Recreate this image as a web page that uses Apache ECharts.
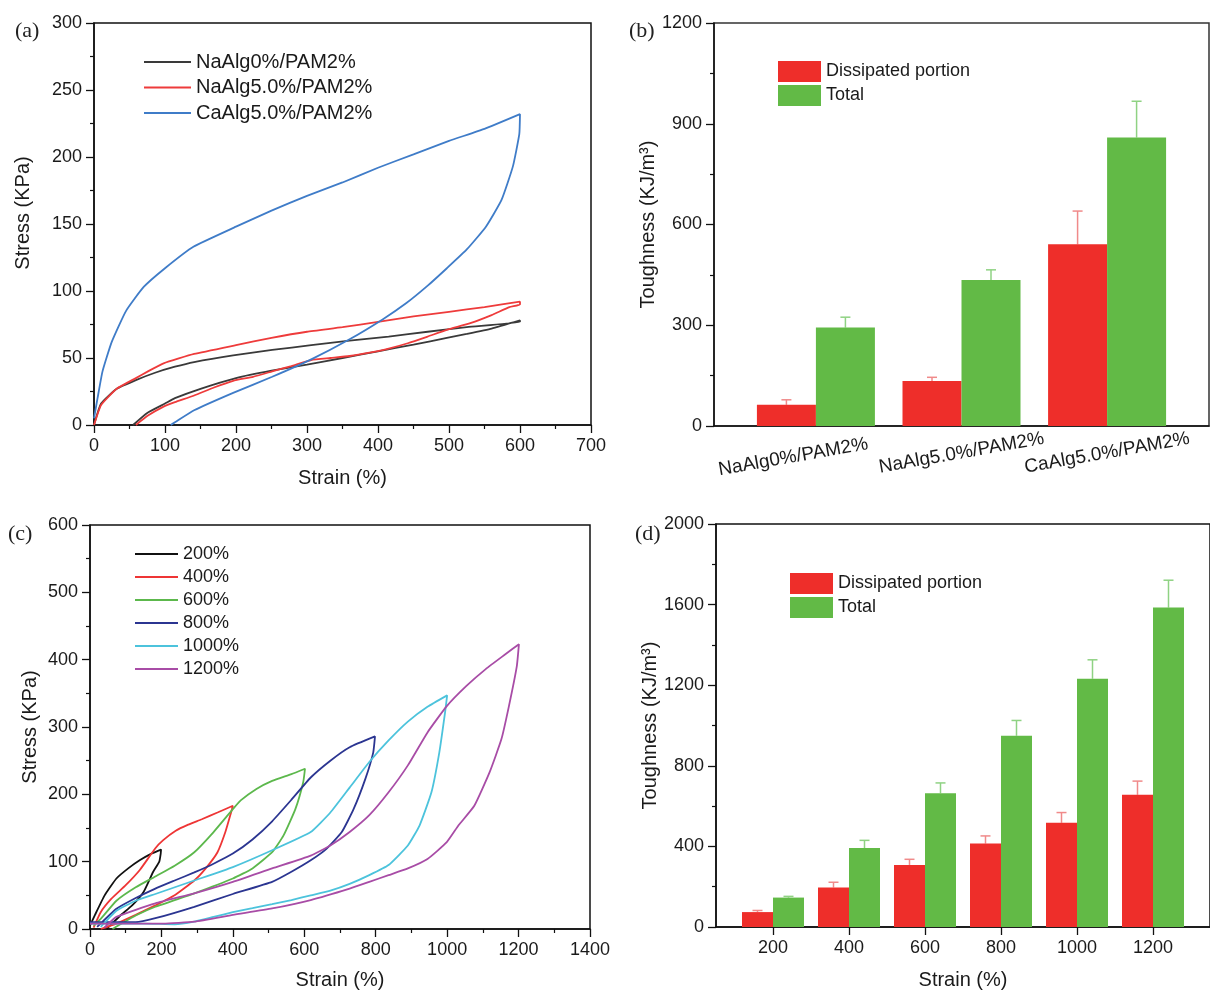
<!DOCTYPE html>
<html>
<head>
<meta charset="utf-8">
<script src="https://cdn.jsdelivr.net/npm/echarts@6/dist/echarts.min.js"></script>
<style>
  html, body { margin: 0; padding: 0; background: #fff; }
  #chart { width: 1210px; height: 991px; }
</style>
</head>
<body>
<div id="chart"></div>
<script>
// ---- (a) cyclic stress-strain, 600% ----
var curveNaAlg0 = [[0,0],[10,16],[32,27],[59,33.5],[86,39],[114,43.5],[141,47],[196,52],[251,56],[306,59.6],[360,63],[415,66],[470,69.6],[525,73],[600,77],
  [600,78],[560,72],[525,68],[497,65],[450,60],[400,55],[350,50],[300,45],[250,40.5],[200,35],[150,27],[114,20],[100,16],[75,9],[55,0]];
var curveNaAlg5 = [[0,0],[10,15],[32,27],[59,35],[76,40],[98,46],[141,53],[200,59.6],[250,65],[300,69.6],[350,73],[400,77],[450,81],[500,84.5],[550,88],[600,92],
  [600,90],[585,88],[560,82],[530,76],[497,71],[470,66],[442,61],[415,57],[388,54],[360,51.5],[333,50],[306,48.5],[278,44],[251,40],[224,36],[196,33],[169,28],[141,22],[114,17],[98,13.7],[76,7],[59,0]];
var curveCaAlg5 = [[0,5],[5,20],[12,40],[25,62],[45,85],[70,103],[100,117],[140,133],[200,148],[250,160],[300,171],[350,181],[400,192],[450,202],[500,212],[550,221],[600,232],
  [599,217],[590,193],[574,168],[552,148],[525,131],[497,117],[470,104],[440,91],[407,79],[360,64],[306,49],[251,36],[196,24],[141,11],[114,2],[108,0]];

// ---- (b) toughness by composition ----
var catsB = ['NaAlg0%/PAM2%', 'NaAlg5.0%/PAM2%', 'CaAlg5.0%/PAM2%'];
var dissB = [63, 134, 541];
var dissErrB = [15, 11, 99];
var totalB = [293, 435, 859];
var totalErrB = [31, 30, 108];

// ---- (c) cyclic stress-strain at increasing strain ----
var curve200 = [[0,5],[14,21],[41,50],[74,75],[107,90],[139,102],[172,112],[199,118],
  [198,112],[194,100],[177,85],[150,55],[118,35],[85,20],[58,6],[47,0]];
var curve400 = [[10,2],[30,25],[60,45],[100,65],[140,88],[183,120],[205,132],[240,146],[275,155],[313,163],[357,173],[400,183],
  [395,173],[379,144],[357,114],[324,90],[292,72],[237,50],[183,35],[128,21],[74,8],[30,0]];
var curve600 = [[10,5],[30,15],[74,42],[128,62],[183,78],[237,94],[292,114],[346,144],[400,178],[422,191],[466,208],[510,220],[564,230],[602,238],
  [597,218],[575,178],[542,139],[510,114],[455,90],[400,75],[292,53],[183,33],[128,20],[85,7],[63,0]];
var curve800 = [[20,3],[74,30],[128,46],[183,60],[237,72],[292,84],[346,97],[400,112],[455,133],[510,160],[564,192],[618,225],[673,250],[727,270],[798,286],
  [793,262],[771,223],[738,178],[705,144],[662,119],[618,102],[564,85],[510,70],[400,52],[292,33],[183,16],[128,10],[0,10]];
var curve1000 = [[30,3],[74,27],[128,42],[183,52],[292,72],[400,92],[510,117],[618,144],[673,173],[727,210],[782,248],[836,280],[890,308],[945,330],[1000,347],
  [994,321],[978,262],[956,203],[923,154],[890,124],[836,95],[782,80],[727,67],[673,57],[618,50],[564,43],[510,37],[455,31],[400,25],[346,18],[292,11],[237,7],[150,8],[0,8]];
var curve1200 = [[40,2],[74,18],[183,38],[292,53],[400,70],[510,90],[618,109],[673,124],[727,144],[782,169],[836,203],[890,243],[945,292],[999,331],[1054,361],[1108,386],[1163,408],[1201,423],
  [1195,390],[1173,331],[1152,282],[1119,233],[1076,183],[1032,154],[999,129],[945,104],[890,90],[836,80],[782,70],[727,60],[618,43],[510,30.5],[400,21],[292,11],[205,8],[0,8]];

// ---- (d) toughness by strain ----
var strainD = [200, 400, 600, 800, 1000, 1200];
var dissD = [74, 196, 308, 414, 517, 656];
var dissErrD = [8, 26, 28, 38, 51, 68];
var totalD = [146, 392, 664, 949, 1232, 1585];
var totalErrD = [6, 38, 51, 76, 94, 136];

var SANS = 'Liberation Sans, Arial, Helvetica, sans-serif';
var RED = '#ee2e2a', GREEN = '#62ba46';
var RED_ERR = '#f08a8a', GREEN_ERR = '#8fd283';
var TXT = '#1a1a1a';

var chart = echarts.init(document.getElementById('chart'));

function plain(v) { return String(v); }

function valueAxis(grid, min, max, interval, extra) {
  var ax = {
    type: 'value', gridIndex: grid, min: min, max: max, interval: interval,
    axisLine: { show: true, onZero: false, lineStyle: { color: '#111', width: 1.5 } },
    axisTick: { show: true, inside: false, length: 8, lineStyle: { color: '#111', width: 1.3 } },
    minorTick: { show: true, splitNumber: 2, length: 4, lineStyle: { color: '#111', width: 1.2 } },
    splitLine: { show: false },
    axisLabel: { color: TXT, fontSize: 18, fontFamily: SANS, margin: 12, formatter: plain },
    nameLocation: 'middle',
    nameTextStyle: { color: TXT, fontSize: 20, fontFamily: SANS }
  };
  for (var k in extra) ax[k] = extra[k];
  return ax;
}

function errorBars(xi, yi, xs, vals, errs, dx, color, cap) {
  return {
    type: 'custom', xAxisIndex: xi, yAxisIndex: yi, z: 1, silent: true,
    data: xs.map(function (x, i) { return [x, vals[i], errs[i]]; }),
    encode: { x: 0, y: 1 },
    renderItem: function (params, api) {
      var p0 = api.coord([api.value(0), api.value(1)]);
      var p1 = api.coord([api.value(0), api.value(1) + api.value(2)]);
      var x = p0[0] + dx;
      var st = { stroke: color, lineWidth: 1.5 };
      return { type: 'group', children: [
        { type: 'line', shape: { x1: x, y1: p0[1], x2: x, y2: p1[1] }, style: st },
        { type: 'line', shape: { x1: x - cap, y1: p1[1], x2: x + cap, y2: p1[1] }, style: st }
      ] };
    }
  };
}

function lineSeries(name, data, color, xi, yi) {
  return {
    name: name, type: 'line', xAxisIndex: xi, yAxisIndex: yi, data: data,
    showSymbol: false, smooth: 0.15, color: color,
    lineStyle: { color: color, width: 1.8 }
  };
}

var idxB = catsB.map(function (c, i) { return i + 1; });

var option = {
  animation: false,
  backgroundColor: '#fff',
  textStyle: { fontFamily: SANS },
  grid: [
    { left: 94, top: 23, width: 497, height: 402, show: true, borderColor: '#111', borderWidth: 1.5 },
    { left: 714, top: 23, width: 495, height: 403, show: true, borderColor: '#333', borderWidth: 1.5 },
    { left: 90, top: 525, width: 500, height: 406, show: true, borderColor: '#111', borderWidth: 1.5 },
    { left: 716, top: 524, width: 505, height: 403, show: true, borderColor: '#111', borderWidth: 1.5 }
  ],
  xAxis: [
    valueAxis(0, 0, 700, 100, { name: 'Strain (%)', nameGap: 43 }),
    valueAxis(1, 0.3, 3.7, 1, {
      axisTick: { show: false }, minorTick: { show: false },
      axisLabel: {
        customValues: idxB, rotate: 10, align: 'center', verticalAlign: 'middle', margin: 27,
        color: TXT, fontSize: 19, fontFamily: SANS,
        formatter: function (v) {
          var i = Math.round(v) - 1;
          return i === 0 ? '{s|' + catsB[i] + '}' : catsB[i];
        },
        rich: { s: { fontSize: 19, fontFamily: SANS, color: TXT, padding: [0, 46, 0, 0] } }
      }
    }),
    valueAxis(2, 0, 1400, 200, { name: 'Strain (%)', nameGap: 41 }),
    valueAxis(3, 50, 1350, 200, {
      name: 'Strain (%)', nameGap: 43,
      minorTick: { show: false },
      axisTick: { show: true, length: 8, customValues: strainD, lineStyle: { color: '#111', width: 1.3 } },
      axisLabel: { customValues: strainD, color: TXT, fontSize: 18, fontFamily: SANS, margin: 12, formatter: plain }
    })
  ],
  yAxis: [
    valueAxis(0, 0, 300, 50, { name: 'Stress (KPa)', nameGap: 61,
      nameTextStyle: { color: TXT, fontSize: 20, fontFamily: SANS, padding: [0, 0, 0, 22] } }),
    valueAxis(1, 0, 1200, 300, { name: 'Toughness (KJ/m\u00b3)', nameGap: 43 }),
    valueAxis(2, 0, 600, 100, { name: 'Stress (KPa)', nameGap: 50 }),
    valueAxis(3, 0, 2000, 400, { name: 'Toughness (KJ/m\u00b3)', nameGap: 40 })
  ],
  legend: [
    { data: ['NaAlg0%/PAM2%', 'NaAlg5.0%/PAM2%', 'CaAlg5.0%/PAM2%'], orient: 'vertical', left: 139, top: 47,
      icon: 'rect', itemWidth: 47, itemHeight: 2, itemGap: 5.5,
      textStyle: { fontSize: 20, fontFamily: SANS, color: TXT } },
    { data: ['Dissipated portion', 'Total'], orient: 'vertical', left: 773, top: 56,
      icon: 'rect', itemWidth: 43, itemHeight: 21, itemGap: 3,
      textStyle: { fontSize: 18, fontFamily: SANS, color: TXT } },
    { data: ['200%', '400%', '600%', '800%', '1000%', '1200%'], orient: 'vertical', left: 130, top: 540,
      icon: 'rect', itemWidth: 43, itemHeight: 2, itemGap: 5,
      textStyle: { fontSize: 18, fontFamily: SANS, color: TXT } },
    { data: ['Dissipated portion', 'Total'], orient: 'vertical', left: 785, top: 568,
      icon: 'rect', itemWidth: 43, itemHeight: 21, itemGap: 3,
      textStyle: { fontSize: 18, fontFamily: SANS, color: TXT } }
  ],
  graphic: [
    { type: 'text', left: 15, top: 20, style: { text: '(a)', font: '22px Liberation Serif', fill: '#222' } },
    { type: 'text', left: 629, top: 20, style: { text: '(b)', font: '22px Liberation Serif', fill: '#222' } },
    { type: 'text', left: 8, top: 523, style: { text: '(c)', font: '22px Liberation Serif', fill: '#222' } },
    { type: 'text', left: 635, top: 523, style: { text: '(d)', font: '22px Liberation Serif', fill: '#222' } }
  ],
  series: [
    lineSeries('NaAlg0%/PAM2%', curveNaAlg0, '#3a3a3a', 0, 0),
    lineSeries('NaAlg5.0%/PAM2%', curveNaAlg5, '#ee3b3b', 0, 0),
    lineSeries('CaAlg5.0%/PAM2%', curveCaAlg5, '#3f7cc8', 0, 0),

    errorBars(1, 1, idxB, dissB, dissErrB, -29.5, RED_ERR, 5),
    errorBars(1, 1, idxB, totalB, totalErrB, 29.5, GREEN_ERR, 5),
    { name: 'Dissipated portion', type: 'bar', xAxisIndex: 1, yAxisIndex: 1, z: 2, barWidth: 59, barGap: '0%',
      itemStyle: { color: RED }, data: idxB.map(function (x, i) { return [x, dissB[i]]; }) },
    { name: 'Total', type: 'bar', xAxisIndex: 1, yAxisIndex: 1, z: 2, barWidth: 59, barGap: '0%',
      itemStyle: { color: GREEN }, data: idxB.map(function (x, i) { return [x, totalB[i]]; }) },

    lineSeries('200%', curve200, '#111111', 2, 2),
    lineSeries('400%', curve400, '#ee3535', 2, 2),
    lineSeries('600%', curve600, '#5cb84c', 2, 2),
    lineSeries('800%', curve800, '#2b3591', 2, 2),
    lineSeries('1000%', curve1000, '#4cc3dc', 2, 2),
    lineSeries('1200%', curve1200, '#a84ca6', 2, 2),

    errorBars(3, 3, strainD, dissD, dissErrD, -15.5, RED_ERR, 5),
    errorBars(3, 3, strainD, totalD, totalErrD, 15.5, GREEN_ERR, 5),
    { name: 'Dissipated portion', type: 'bar', xAxisIndex: 3, yAxisIndex: 3, z: 2, barWidth: 31, barGap: '0%',
      itemStyle: { color: RED }, data: strainD.map(function (x, i) { return [x, dissD[i]]; }) },
    { name: 'Total', type: 'bar', xAxisIndex: 3, yAxisIndex: 3, z: 2, barWidth: 31, barGap: '0%',
      itemStyle: { color: GREEN }, data: strainD.map(function (x, i) { return [x, totalD[i]]; }) }
  ]
};

chart.setOption(option);
</script>
</body>
</html>
